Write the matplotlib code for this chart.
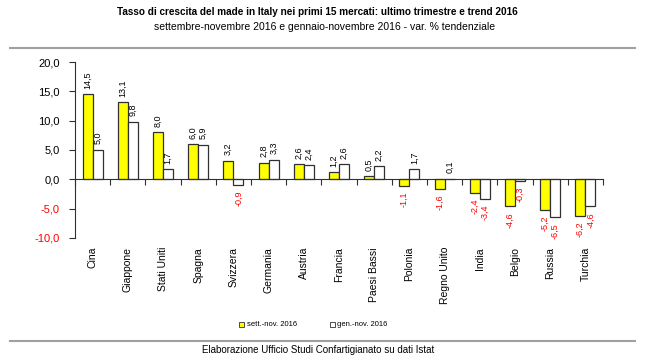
import matplotlib
matplotlib.use("Agg")
import matplotlib.pyplot as plt
from matplotlib import font_manager
from matplotlib.lines import Line2D
from matplotlib.patches import Rectangle
import numpy as np

paesi = ["Cina", "Giappone", "Stati Uniti", "Spagna", "Svizzera", "Germania", "Austria",
         "Francia", "Paesi Bassi", "Polonia", "Regno Unito", "India", "Belgio", "Russia", "Turchia"]
sett_nov = [14.5, 13.1, 8.0, 6.0, 3.2, 2.8, 2.6, 1.2, 0.5, -1.1, -1.6, -2.4, -4.6, -5.2, -6.2]
gen_nov = [5.0, 9.8, 1.7, 5.9, -0.9, 3.3, 2.4, 2.6, 2.2, 1.7, 0.1, -3.4, -0.3, -6.5, -4.6]
y_ticks = [-10, -5, 0, 5, 10, 15, 20]

names = {f.name for f in font_manager.fontManager.ttflist}
FONT = "Liberation Sans" if "Liberation Sans" in names else "DejaVu Sans"
plt.rcParams["font.family"] = FONT

RED = "#ff0000"
YELLOW = "#ffff00"
EDGE = "#303030"

fig = plt.figure(figsize=(6.45, 3.63), dpi=100)
ax = fig.add_axes([75 / 645, 1 - 238 / 363, 528 / 645, 176 / 363])

x = np.arange(len(paesi)) + 0.5
w = 0.285
ax.bar(x - w / 2, sett_nov, w, color=YELLOW, edgecolor=EDGE, linewidth=0.9, zorder=2)
ax.bar(x + w / 2, gen_nov, w, color="white", edgecolor=EDGE, linewidth=0.9, zorder=2)

# etichette valori
for xs, vals in ((x - w / 2, sett_nov), (x + w / 2, gen_nov)):
    for xi, v in zip(xs, vals):
        lab = f"{v:.1f}".replace(".", ",")
        if v >= 0:
            ax.annotate(lab, (xi, v), xytext=(0, 4), textcoords="offset points",
                        rotation=90, ha="center", va="bottom", fontsize=6.5, color="black")
        else:
            ax.annotate(lab, (xi, v), xytext=(0, -4), textcoords="offset points",
                        rotation=90, ha="center", va="top", fontsize=6.5, color=RED)

ax.set_xlim(0, len(paesi))
ax.set_ylim(-10, 20)
ax.set_yticks(y_ticks)
ax.set_yticklabels([f"{t:.1f}".replace(".", ",") for t in y_ticks], fontsize=8)
for t, lab in zip(y_ticks, ax.get_yticklabels()):
    lab.set_color(RED if t < 0 else "black")
ax.tick_params(axis="y", length=4, width=0.8, pad=7, color=EDGE)

ax.set_xticks(np.arange(len(paesi) + 1))
ax.set_xticklabels([])
ax.tick_params(axis="x", length=4, width=0.8, direction="out", color=EDGE)

for s in ("top", "right"):
    ax.spines[s].set_visible(False)
ax.spines["bottom"].set_position(("data", 0))
for s in ("left", "bottom"):
    ax.spines[s].set_color(EDGE)
    ax.spines[s].set_linewidth(0.8)

# nomi paesi
for xi, p in zip(x, paesi):
    ax.text(xi, -(247 - 238) / 176, p, transform=ax.get_xaxis_transform(),
            rotation=90, ha="center", va="top", fontsize=7.5)

fig.text(0.492, 1 - 12 / 363, "Tasso di crescita del made in Italy nei primi 15 mercati: ultimo trimestre e trend 2016",
         ha="center", va="center", fontsize=7.2, fontweight="bold")
fig.text(0.503, 1 - 27 / 363, "settembre-novembre 2016 e gennaio-novembre 2016 - var. % tendenziale",
         ha="center", va="center", fontsize=7.5)

for yl in (48, 341):
    fig.add_artist(Line2D([10 / 645, 635 / 645], [1 - yl / 363] * 2, color="#a0a0a0", linewidth=1.5))

# legenda
ly = 1 - 324 / 363
fig.add_artist(Rectangle((239 / 645, ly - 2.5 / 363), 5 / 645, 5 / 363, facecolor=YELLOW, edgecolor=EDGE, linewidth=0.6))
fig.text(247 / 645, ly, "sett.-nov. 2016", ha="left", va="center", fontsize=5.5)
fig.add_artist(Rectangle((330 / 645, ly - 2.5 / 363), 5 / 645, 5 / 363, facecolor="white", edgecolor=EDGE, linewidth=0.6))
fig.text(337 / 645, ly, "gen.-nov. 2016", ha="left", va="center", fontsize=5.5)

fig.text(0.493, 1 - 350 / 363, "Elaborazione Ufficio Studi Confartigianato su dati Istat",
         ha="center", va="center", fontsize=7)

fig.savefig("out.png", dpi=100)
